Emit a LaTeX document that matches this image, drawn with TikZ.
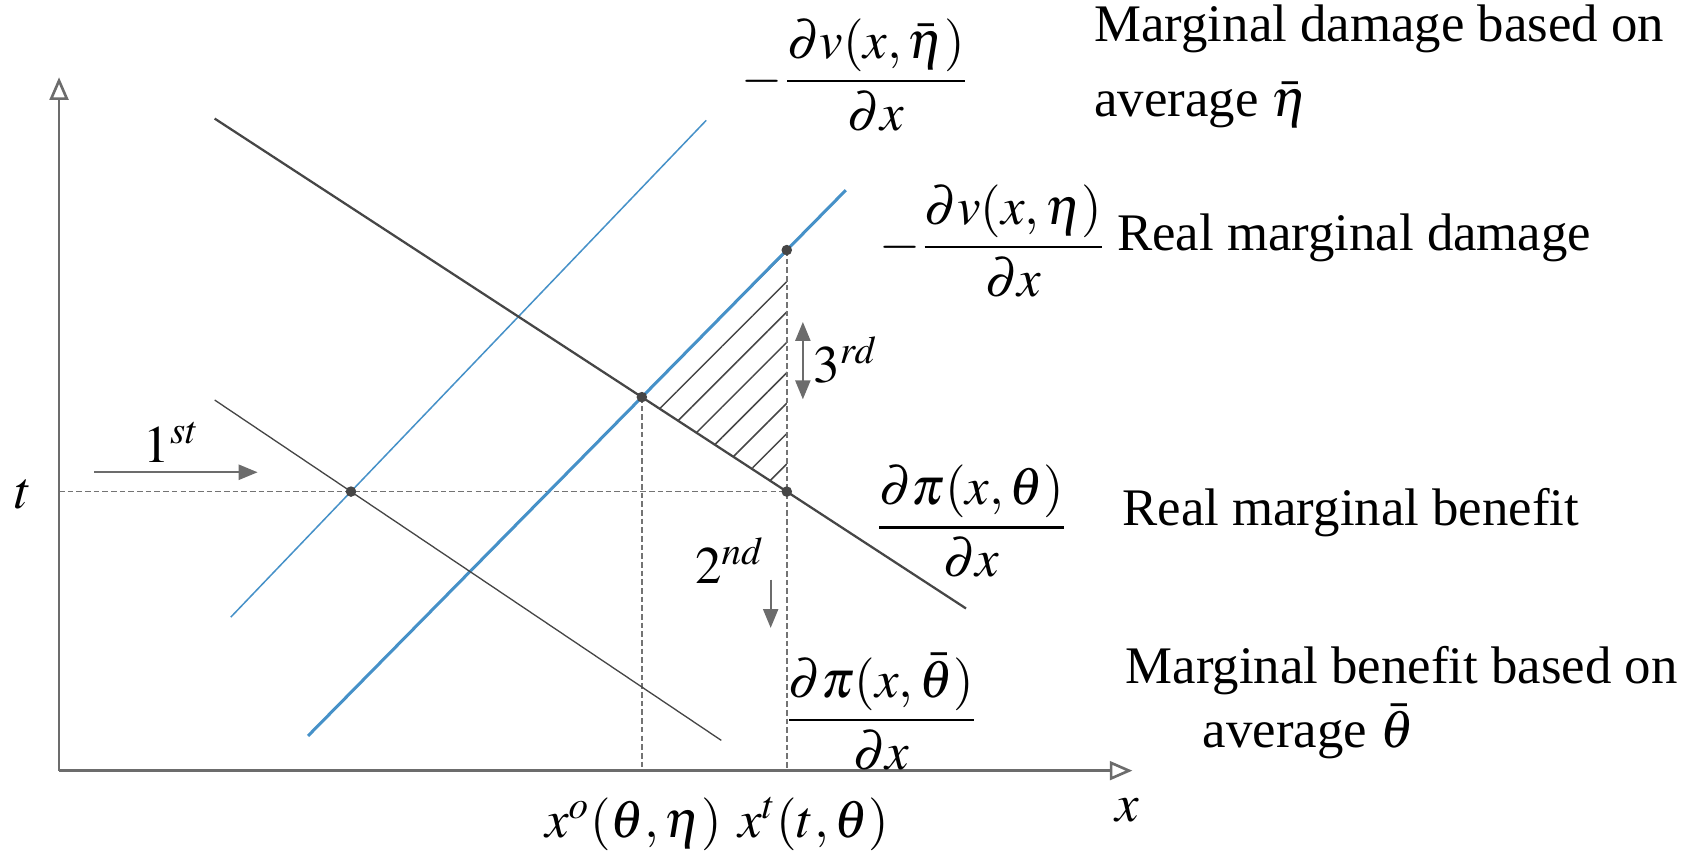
\documentclass[tikz,border=0pt]{standalone}
\usepackage{amsmath}
\usepackage{mathptmx}
\usepackage{fontspec}
\setmainfont{Liberation Serif}
\usetikzlibrary{arrows.meta,patterns.meta}
\definecolor{dmgblue}{RGB}{70,145,200}
\definecolor{linegray}{RGB}{70,70,70}

\begin{document}
\begin{tikzpicture}[font=\fontsize{14}{18}\selectfont,
    axis/.style={draw=gray!85!black, line width=0.7pt,
                 -{Triangle[open, length=6pt, width=5pt]}},
    guide/.style={draw=gray!90!black, line width=0.4pt, dash pattern=on 1.5pt off 0.8pt},
    mb/.style={draw=linegray, line width=0.6pt},
    mbavg/.style={draw=linegray, line width=0.35pt},
    md/.style={draw=dmgblue, line width=0.8pt},
    mdavg/.style={draw=dmgblue, line width=0.4pt},
    movearr/.style={draw=gray!85!black, line width=0.5pt,
                    -{Triangle[length=5pt, width=4pt]}},
    txt/.style={align=left, inner sep=0pt}
]
    \useasboundingbox (-0.55,-0.79) rectangle (15.13,7.18);

    % Axes
    \coordinate (o) at (0,0);
    \coordinate (ytop) at (0,6.46);
    \coordinate (xend) at (10.0,0);
    \coordinate (tax) at (0,2.60);

    % Equilibrium points
    \coordinate (e0) at (2.72,2.60);
    \coordinate (e1) at (5.43,3.48);
    \coordinate (e2) at (6.78,2.60);
    \coordinate (e3) at (6.78,4.85);

    % Curve end points
    \coordinate (mbA) at (1.45,6.075);
    \coordinate (mbB) at (8.45,1.511);
    \coordinate (mbbarA) at (1.45,3.453);
    \coordinate (mbbarB) at (6.17,0.282);
    \coordinate (mdA) at (2.32,0.324);
    \coordinate (mdB) at (7.33,5.408);
    \coordinate (mdbarA) at (1.60,1.430);
    \coordinate (mdbarB) at (6.03,6.059);

    % Hatched loss area
    \fill[pattern={Lines[angle=45, distance=5.7pt, line width=0.4pt]},
          pattern color=linegray] (e1) -- (e3) -- (e2) -- cycle;

    % Guide lines
    \draw[guide] (tax) -- (e2);
    \draw[guide] (e1) -- (e1 |- o);
    \draw[guide] (e3) -- (e3 |- o);

    % Curves
    \draw[mdavg] (mdbarA) -- (mdbarB);
    \draw[md] (mdA) -- (mdB);
    \draw[mbavg] (mbbarA) -- (mbbarB);
    \draw[mb] (mbA) -- (mbB);

    \draw[axis] (o) -- (ytop);
    \draw[axis] (o) -- (xend);

    % Dots
    \foreach \p in {e0,e1,e2,e3}
        \fill[linegray] (\p) circle (1.4pt);

    % Axis labels
    \node (tlab) at (-0.33,2.57) {$t$};
    \node (xlab) at (9.95,-0.37) {$x$};
    \node (xolab) at (5.35,-0.50) {$x^{o}(\theta,\eta)$};
    \node (xtlab) at (7.03,-0.50) {$x^{t}(t,\theta)$};

    % Steps
    \node (first) at (1.05,3.06) {$1^{st}$};
    \coordinate (firstA) at (0.33,2.78);
    \coordinate (firstB) at (1.85,2.78);
    \draw[movearr] (firstA) -- (firstB);

    \node (second) at (6.25,1.96) {$2^{nd}$};
    \coordinate (secondA) at (6.63,1.78);
    \coordinate (secondB) at (6.63,1.33);
    \draw[movearr] (secondA) -- (secondB);

    \node (third) at (7.33,3.83) {$3^{rd}$};
    \coordinate (thirdA) at (6.93,4.18);
    \coordinate (thirdB) at (6.93,3.46);
    \draw[movearr, {Triangle[length=5pt, width=4pt]}-{Triangle[length=5pt, width=4pt]}] (thirdA) -- (thirdB);

    % Curve labels
    \node (mdbarlab) at (7.42,6.48) {$-\dfrac{\partial v(x,\bar{\eta})}{\partial x}$};
    \node (mdlab) at (8.70,4.93) {$-\dfrac{\partial v(x,\eta)}{\partial x}$};
    \node (mblab) at (8.50,2.32) {$\dfrac{\partial \pi(x,\theta)}{\partial x}$};
    \node (mbbarlab) at (7.66,0.55) {$\dfrac{\partial \pi(x,\bar{\theta})}{\partial x}$};

    \node[txt, anchor=west] (mdbartxt) at (9.64,6.56) {Marginal damage based on\\[2pt]average $\bar{\eta}$};
    \node[txt, anchor=west] (mdtxt) at (9.85,4.96) {Real marginal damage};
    \node[txt, anchor=west] (mbtxt) at (9.90,2.40) {Real marginal benefit};
    \node[txt, anchor=west] (mbbartxt) at (9.93,0.63) {Marginal benefit based on\\[-1pt]\hspace*{0.72cm}average $\bar{\theta}$};
\end{tikzpicture}
\end{document}
